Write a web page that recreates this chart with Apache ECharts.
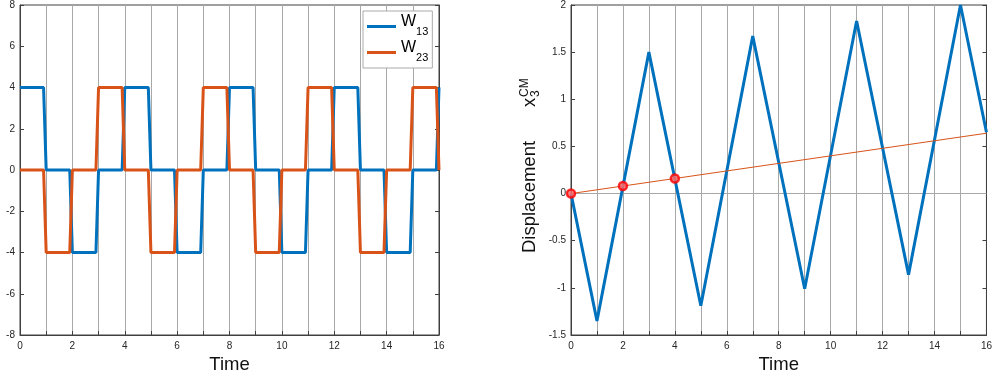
<!DOCTYPE html>
<html>
<head>
<meta charset="utf-8">
<script src="https://cdn.jsdelivr.net/npm/echarts@6/dist/echarts.min.js"></script>
<style>html,body{margin:0;padding:0;background:#fff}#c{width:995px;height:381px}</style>
</head>
<body>
<div id="c"></div>
<script>
// ---- Left panel: switching signals ----
const timeSteps = [0,0.9,1,1.9,2,2.9,3,3.9,4,4.9,5,5.9,6,6.9,7,7.9,8,8.9,9,9.9,10,10.9,11,11.9,12,12.9,13,13.9,14,14.9,15,15.9,16];
const w13 = [4,4,0,0,-4,-4,0,0,4,4,0,0,-4,-4,0,0,4,4,0,0,-4,-4,0,0,4,4,0,0,-4,-4,0,0,4];
const w23 = [0,0,-4,-4,0,0,4,4,0,0,-4,-4,0,0,4,4,0,0,-4,-4,0,0,4,4,0,0,-4,-4,0,0,4,4,0];
const leftYTicks = [-8,-6,-4,-2,0,2,4,6,8];
// ---- Right panel: displacement ----
const peakTimes = [0,1,3,5,7,9,11,13,15,16];
const x3cm = [0,-1.35,1.5,-1.19,1.67,-1.01,1.83,-0.86,2.0,0.65];
const driftTimes = [0,16];
const driftVals = [0,0.64];
const markerTimes = [0,2,4];
const markerVals = [0,0.08,0.16];
const rightYTicks = [-1.5,-1,-0.5,0,0.5,1,1.5,2];
const xTickLabels = [0,2,4,6,8,10,12,14,16];

const zip = (a,b) => a.map((v,i)=>[v,b[i]]);
const FONT = '"Liberation Sans", Arial, Helvetica, sans-serif';
const BLUE = '#0072BD', ORANGE = '#D95319';
const AX = '#404040', GRID = '#a8a8a8', LBL = '#262626';

function xAxisCfg(gi) {
  return {
    type:'value', gridIndex:gi, min:0, max:16, interval:1,
    name:'Time', nameLocation:'middle', nameGap:17,
    nameTextStyle:{fontFamily:FONT, fontSize:18.5, color:'#111'},
    axisLine:{show:true, onZero:false, lineStyle:{color:AX, width:1}},
    axisTick:{show:true, inside:true, length:4, lineStyle:{color:AX}},
    axisLabel:{fontFamily:FONT, fontSize:10, color:LBL, margin:6,
      formatter:v => xTickLabels.indexOf(v) >= 0 ? String(v) : ''},
    splitLine:{show:true, lineStyle:{color:GRID, width:1}}
  };
}
function yAxisCfg(gi, ticks, pos, showLbl) {
  return {
    type:'value', gridIndex:gi, position:pos, min:ticks[0], max:ticks[ticks.length-1],
    interval:ticks[1]-ticks[0],
    axisLine:{show:true, onZero:false, lineStyle:{color:AX, width:1}},
    axisTick:{show:true, inside:true, length:4, lineStyle:{color:AX}},
    axisLabel:{show:showLbl, fontFamily:FONT, fontSize:10, color:LBL, margin:5},
    splitLine:{show:false}
  };
}

const chart = echarts.init(document.getElementById('c'), null, {renderer:'canvas'});
chart.setOption({
  animation:false,
  backgroundColor:'#fff',
  grid:[
    {left:20, top:4, width:419, height:331, show:true, borderColor:AX, borderWidth:1, backgroundColor:'transparent'},
    {left:571, top:4, width:421, height:331, show:true, borderColor:AX, borderWidth:1, backgroundColor:'transparent'}
  ],
  xAxis:[xAxisCfg(0), xAxisCfg(1)],
  yAxis:[
    yAxisCfg(0, leftYTicks, 'left', true),
    yAxisCfg(0, leftYTicks, 'right', false),
    yAxisCfg(1, rightYTicks, 'left', true),
    yAxisCfg(1, rightYTicks, 'right', false)
  ],
  legend:{
    data:['W13','W23'], left:363, top:11, orient:'vertical',
    backgroundColor:'#fff', borderColor:'#aaaaaa', borderWidth:1,
    padding:[3,4,3,4], itemGap:1, itemWidth:29, itemHeight:3, icon:'rect',
    formatter: n => n === 'W13' ? '{a|W}{b|13}' : '{a|W}{b|23}',
    textStyle:{
      rich:{
        a:{fontFamily:FONT, fontSize:16, color:'#000', lineHeight:16, padding:[0,0,9,0]},
        b:{fontFamily:FONT, fontSize:11, color:'#000', lineHeight:11, padding:[11,0,0,0]}
      }
    }
  },
  series:[
    {name:'W13', type:'line', xAxisIndex:0, yAxisIndex:0, data:zip(timeSteps,w13),
     symbol:'none', color:BLUE, lineStyle:{color:BLUE, width:3}, itemStyle:{color:BLUE}, z:2},
    {name:'W23', type:'line', xAxisIndex:0, yAxisIndex:0, data:zip(timeSteps,w23),
     symbol:'none', color:ORANGE, lineStyle:{color:ORANGE, width:3}, itemStyle:{color:ORANGE}, z:3},
    {name:'x3', type:'line', xAxisIndex:1, yAxisIndex:2, data:zip(peakTimes,x3cm),
     symbol:'none', lineStyle:{color:BLUE, width:3}, itemStyle:{color:BLUE}, z:3,
     markLine:{silent:true, symbol:'none', label:{show:false}, z:1,
       lineStyle:{color:GRID, width:1, type:'solid'}, data:[{yAxis:0}]}},
    {name:'drift', type:'line', xAxisIndex:1, yAxisIndex:2, data:zip(driftTimes,driftVals),
     symbol:'none', lineStyle:{color:ORANGE, width:1}, itemStyle:{color:ORANGE}, z:4},
    {name:'marks', type:'scatter', xAxisIndex:1, yAxisIndex:2, data:zip(markerTimes,markerVals),
     symbol:'circle', symbolSize:8, clip:false,
     itemStyle:{color:'#ff6b6b', borderColor:'#ff0000', borderWidth:2.5}, z:5}
  ],
  graphic:[
    {type:'group', x:529.6, y:253, rotation:Math.PI/2, children:[
      {type:'text', x:0, y:0, style:{text:'Displacement', font:'18.5px '+FONT, fill:'#111', align:'left', verticalAlign:'middle'}},
      {type:'text', x:146, y:0, style:{text:'x', font:'18.5px '+FONT, fill:'#111', align:'left', verticalAlign:'middle'}},
      {type:'text', x:156, y:-4.8, style:{text:'CM', font:'12px '+FONT, fill:'#111', align:'left', verticalAlign:'middle'}},
      {type:'text', x:156, y:6.2, style:{text:'3', font:'12px '+FONT, fill:'#111', align:'left', verticalAlign:'middle'}}
    ]}
  ]
});
</script>
</body>
</html>
